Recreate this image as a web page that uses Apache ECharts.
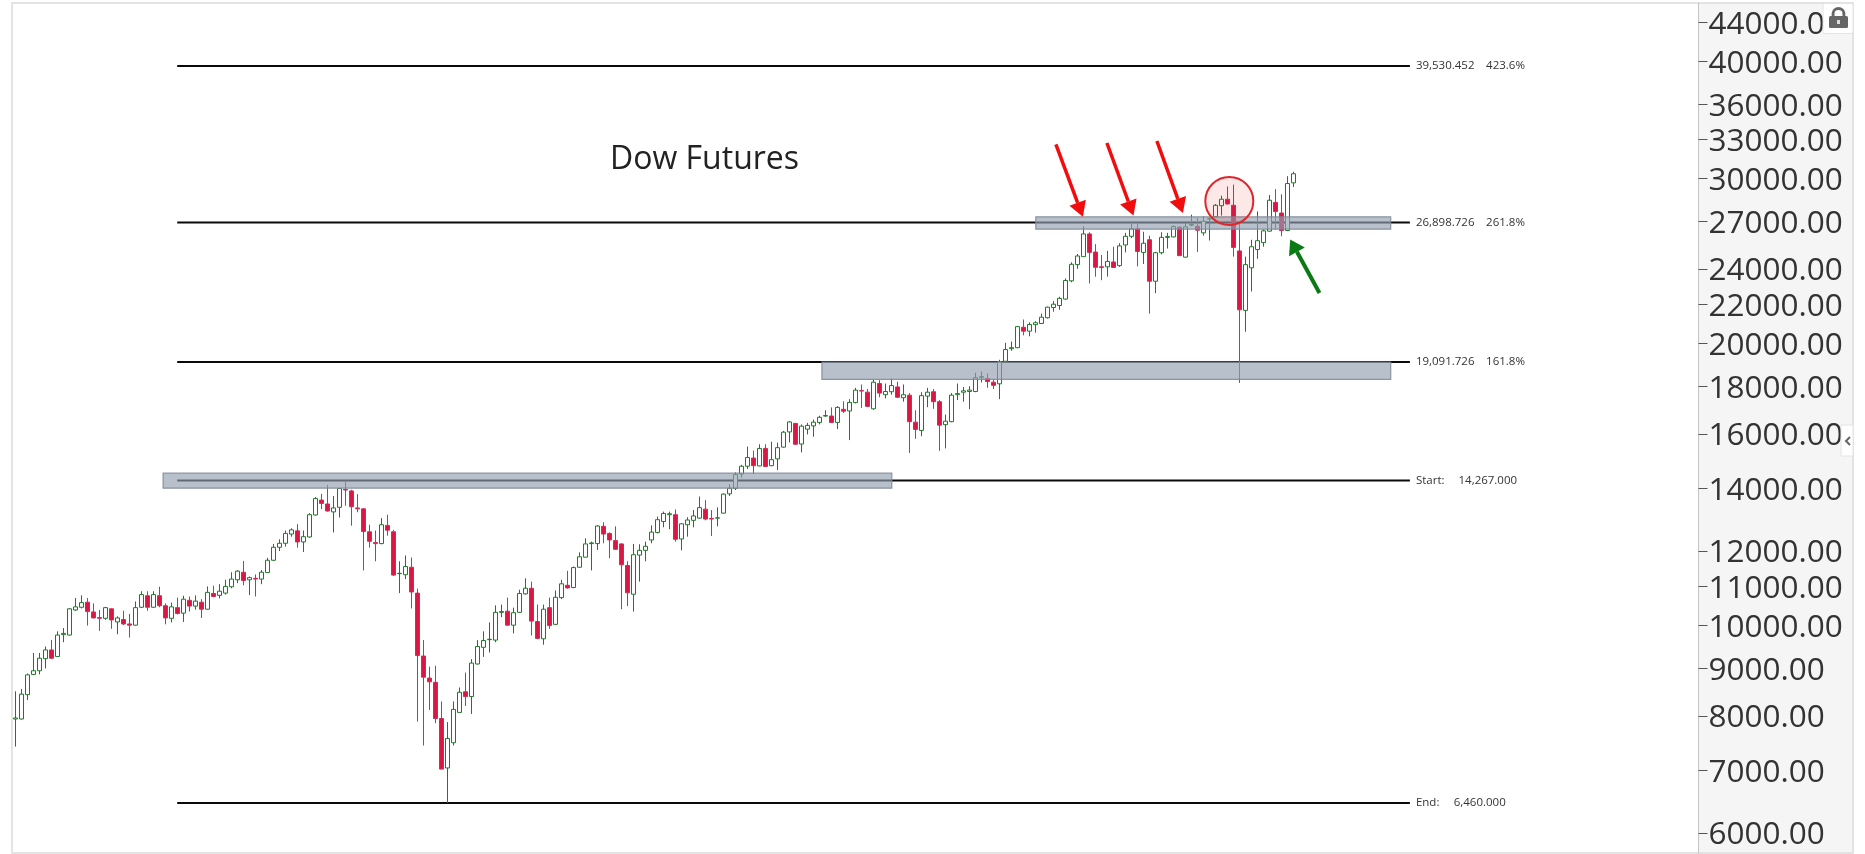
<!DOCTYPE html>
<html>
<head>
<meta charset="utf-8">
<style>html,body{margin:0;padding:0;background:#fff}#c{width:1865px;height:854px}</style>
<script src="https://cdn.jsdelivr.net/npm/echarts@6/dist/echarts.min.js"></script>
</head>
<body>
<div id="c"></div>
<script>
const opens=[7940,7940,8430,8860,8940,9210,9410,9260,9770,9760,10380,10450,10580,10330,10190,10170,10410,10080,10140,10030,10000,10450,10750,10450,10750,10490,10170,10440,10300,10630,10480,10580,10400,10810,10760,10820,10990,11180,11390,11180,11220,11200,11380,11730,12110,12230,12510,12610,12270,12420,13110,13600,13470,13210,13360,13960,13910,13340,13310,12580,12250,12220,12780,12580,11350,11320,11530,10820,9270,8780,8690,7950,7040,7490,8070,8490,8390,9090,9470,9650,9640,10320,10350,10000,10320,10800,10950,10090,9670,10440,10020,10700,11030,10970,11530,11820,12220,12220,12750,12530,12310,12210,11580,10790,11880,12020,12330,12560,12900,13120,13120,12360,12800,12940,13010,13300,13000,13010,13170,13810,14000,14500,14780,15080,14790,15440,14800,15050,15490,16080,16420,15610,16190,16320,16460,16720,16720,16460,17000,16930,17280,17800,17730,17020,18110,17620,17750,17960,17490,17600,16470,16140,17560,17750,17320,16370,16490,17620,17730,17760,17760,18390,18340,18170,18100,19130,19730,19780,20800,20600,20930,20990,21290,21830,21940,22290,23310,24260,24740,26160,25020,24130,24130,24420,24200,25460,26010,26490,25000,25790,23290,24980,25940,25970,26600,24710,26730,26660,26230,27140,27280,28040,28490,28070,25090,21680,24070,25180,25610,26340,28270,27540,26380,29660];
const closes=[7960,8440,8850,8940,9220,9410,9220,9760,9800,10410,10460,10570,10340,10180,10170,10440,10130,10180,10030,10000,10440,10780,10450,10780,10490,10180,10460,10290,10660,10480,10610,10400,10840,10730,10870,11000,11200,11420,11160,11240,11200,11390,11730,12110,12230,12530,12640,12270,12430,13120,13650,13490,13240,13340,13990,13940,13380,13310,12590,12290,12220,12800,12630,11310,11360,11550,10850,9280,8800,8700,7950,7020,7570,8130,8480,8390,9110,9490,9630,9660,10320,10340,10000,10310,10810,10950,10100,9680,10400,9990,10710,11070,10960,11520,11830,12210,12240,12760,12510,12330,12050,11600,10830,11890,12020,12140,12570,12960,13160,13150,12350,12830,12950,13080,13350,12980,12980,13020,13800,14000,14480,14780,15100,14800,15440,14770,15020,15470,16070,16480,15600,16310,16340,16470,16670,16740,16460,17080,16920,17290,17820,17780,17120,18170,17690,17760,18020,17510,17620,16490,16180,17580,17730,17320,16350,16510,17600,17670,17790,17820,18370,18420,18200,18030,19110,19690,19780,20830,20600,20940,21030,21320,21850,22010,22330,23330,24280,24780,26160,25000,24100,24090,24450,24090,25400,26010,26490,25060,25570,23290,24980,25940,25990,26640,24800,26620,26780,26400,26990,27170,28070,28490,28160,25310,21710,24260,25350,25730,26360,28420,27650,26380,29610,30330];
const lows=[7420,7930,8320,8850,8860,8990,9200,9250,9590,9750,10360,10420,9990,10170,9860,10130,9910,9780,10000,9700,9990,10430,10360,10440,10450,10020,10070,10270,10080,10340,10390,10180,10390,10710,10680,10780,10950,11090,11030,10770,10730,11060,11370,11710,12000,12130,12430,12100,11970,12400,13090,13300,13220,12560,13030,13410,12770,13200,11440,12100,11700,12200,12460,11290,10820,11200,10420,7890,7440,8120,7860,7020,6460,7440,8060,8200,8040,9080,9250,9350,9590,10200,9990,9800,10310,10780,9750,9660,9530,9910,10000,10660,10940,10950,11520,11810,11440,12030,12230,11790,12030,10400,10480,10340,11130,11700,12230,12530,12720,12660,12280,12020,12430,12720,12990,12940,12450,12750,13160,13740,13940,14370,14680,14500,14780,14750,14780,14640,15470,15670,15570,15290,15980,15890,16380,16690,16440,16190,16850,15760,17250,17050,17090,16980,17510,17460,17620,17490,17320,15270,15810,15910,17090,17020,15350,15440,16470,17390,17320,17010,17730,18160,17920,17870,17430,19110,19630,19760,20390,20340,20520,20980,21250,21610,21710,22260,23230,24010,24730,23160,23550,23350,23550,24060,24130,25000,25900,24160,24300,21510,22620,24880,25240,25940,24780,24690,26660,25030,26050,25740,27260,27370,28140,24740,18140,20570,22710,24610,25350,26300,26450,26010,26340,29360];
const highs=[8500,8550,8880,9340,9340,9490,9640,9850,9930,10430,10690,10760,10690,10550,10380,10460,10420,10220,10360,10280,10600,10870,10870,10870,10990,10550,10570,10700,10750,10730,10760,10660,11000,11020,11060,11180,11390,11450,11710,11270,11330,11450,11800,12210,12350,12620,12690,12820,12620,13170,13700,13810,14120,13740,14010,14230,13950,13800,13330,12800,12620,13010,13120,12640,11700,11870,11810,10940,9640,9030,9050,8290,7880,8290,8580,8900,9200,9640,9850,10070,10500,10520,10700,10440,10910,11220,11130,10520,10520,10700,10890,11180,11430,11550,11960,12380,12280,12790,12880,12560,12750,12230,11700,12210,12200,12280,12780,13060,13220,13220,13290,12850,13040,13270,13720,13600,13270,13360,13830,14140,14560,14830,15510,15360,15600,15600,15700,15660,16120,16520,16440,16380,16440,16580,16730,16960,17080,17130,17340,17430,17920,18070,17870,18290,18260,18110,18340,18190,18070,17690,16960,17730,17920,17870,17390,16780,17690,18110,17960,17990,18600,18660,18570,18320,19200,20020,20080,20860,21200,21050,21110,21510,21880,22180,22420,23450,24400,24900,26660,26270,25510,24840,25090,25350,25570,26230,26930,26890,26300,26050,25030,26270,26230,26710,26660,26890,27430,27220,27320,27220,28160,28740,29400,29530,26890,24740,25790,27650,26450,28790,29210,28840,30150,30480];

const categories=[];
for(let i=0;i<281;i++){const m=i+2;categories.push((2003+Math.floor(m/12))+'-'+String(m%12+1).padStart(2,'0'));}

const tickValues=[44000,40000,36000,33000,30000,27000,24000,22000,20000,18000,16000,14000,12000,11000,10000,9000,8000,7000,6000];

const fibLevels=[39530.452,26898.726,19091.726,14267,6460];
const fibLeft=['39,530.452','26,898.726','19,091.726','Start:','End:'];
const fibRight=['423.6%','261.8%','161.8%','14,267.000','6,460.000'];
const fibRightIdx=[245.1,245.1,245.1,240.5,239.7];
const fibStartIdx=26.95, fibEndIdx=232.4, fibLabelIdx=233.4;

// zones: [left index, top price, right index, bottom price]
const zones=[[24.6,14530,146.05,14005],[134.4,19091.7,229.2,18293],[170.05,27281,229.2,26467]];
// arrows: [tail index, tail price, tip index, tip price]
const redArrows=[[173.4,32609,177.9,27281],[181.9,32714,186.33,27367],[190.23,32875,194.57,27544]];
const greenArrows=[[217.33,22630,212.45,25803]];
// circle: [centre index, centre price, radius in index units]
const circles=[[202.3,28368,4]];
const titleText='Dow Futures';

function hiddenX(){return {type:'value',min:-0.5,max:280.5,show:false,gridIndex:0};}

function fibRender(p,api){
  const a=api.coord([api.value(0),api.value(1)]),b=api.coord([api.value(2),api.value(1)]);
  return {type:'line',shape:{x1:a[0],y1:a[1],x2:b[0],y2:b[1]},style:{stroke:'#0a0a0a',lineWidth:2}};
}
function labelRender(p,api){
  const i=p.dataIndex;
  const a=api.coord([fibLabelIdx,api.value(0)]),b=api.coord([fibRightIdx[i],api.value(0)]);
  const st={fontFamily:'Open Sans',fontSize:11.5,fill:'#333',textVerticalAlign:'middle',verticalAlign:'middle',align:'left'};
  return {type:'group',children:[
    {type:'text',style:Object.assign({x:a[0],y:a[1],text:fibLeft[i]},st)},
    {type:'text',style:Object.assign({x:b[0],y:b[1],text:fibRight[i]},st)}
  ]};
}
function zoneRender(p,api){
  const a=api.coord([api.value(0),api.value(1)]),b=api.coord([api.value(2),api.value(3)]);
  return {type:'rect',shape:{x:a[0],y:a[1],width:b[0]-a[0],height:b[1]-a[1]},
    style:{fill:'rgba(146,158,177,0.65)',stroke:'rgba(125,135,148,0.85)',lineWidth:1.2}};
}
function arrowRender(color,headW,headL,shaft){
  return function(p,api){
    const t=api.coord([api.value(0),api.value(1)]),h=api.coord([api.value(2),api.value(3)]);
    const dx=h[0]-t[0],dy=h[1]-t[1],len=Math.hypot(dx,dy),ux=dx/len,uy=dy/len,nx=-uy,ny=ux;
    const bx=h[0]-ux*headL,by=h[1]-uy*headL;
    return {type:'group',children:[
      {type:'line',shape:{x1:t[0],y1:t[1],x2:bx,y2:by},style:{stroke:color,lineWidth:shaft}},
      {type:'polygon',shape:{points:[[h[0],h[1]],[bx+nx*headW/2,by+ny*headW/2],[bx-nx*headW/2,by-ny*headW/2]]},style:{fill:color}}
    ]};
  };
}
function circleRender(p,api){
  const c=api.coord([api.value(0),api.value(1)]),e=api.coord([api.value(0)+api.value(2),api.value(1)]);
  return {type:'circle',shape:{cx:c[0],cy:c[1],r:e[0]-c[0]},style:{fill:'rgba(235,30,30,0.10)',stroke:'#e0262a',lineWidth:2}};
}

const chart=echarts.init(document.getElementById('c'),null,{renderer:'canvas'});
const panelX=1698.5,panelR=1853,topY=3,botY=853;
chart.setOption({
  animation:false,
  backgroundColor:'#fff',
  title:{text:titleText,left:605,top:139,textStyle:{fontFamily:'Open Sans',fontSize:32,fontWeight:'normal',color:'#222'}},
  grid:{left:12.5,top:topY,width:panelX-12.5,height:botY-topY,show:false,containLabel:false},
  xAxis:[
    {type:'category',data:categories,show:false,boundaryGap:true},
    hiddenX()
  ],
  yAxis:{type:'log',logBase:10,min:5712,max:46150,position:'right',
    splitLine:{show:false},minorTick:{show:false},minorSplitLine:{show:false},
    axisLine:{show:true,onZero:false,lineStyle:{color:'#c4c4c4',width:1}},
    axisTick:{show:true,length:9,inside:false,lineStyle:{color:'#555',width:1},customValues:tickValues},
    axisLabel:{show:true,inside:false,margin:10,align:'left',verticalAlign:'top',lineHeight:5,fontFamily:'Open Sans',fontSize:31.5,color:'#333',
      customValues:tickValues,formatter:function(v){return Number(v).toFixed(2);}}
  },
  graphic:{elements:[
    {type:'rect',z:-10,silent:true,shape:{x:panelX,y:topY,width:panelR-panelX,height:botY-topY},style:{fill:'#f5f5f6'}},
    {type:'polyline',z:-9,silent:true,shape:{points:[[panelX,topY],[12,topY],[12,botY],[panelR,botY],[panelR,topY],[panelX,topY]]},style:{fill:'none',stroke:'#dcdcdc',lineWidth:1.5}},
    {type:'rect',z:100,silent:true,shape:{x:1823,y:3.5,width:30,height:30,r:2},style:{fill:'#fff',stroke:'#e4e4e4',lineWidth:1}},
    {type:'rect',z:101,silent:true,shape:{x:1829,y:16,width:19,height:12,r:1.5},style:{fill:'#666'}},
    {type:'arc',z:101,silent:true,shape:{cx:1838.5,cy:14,r:5.5,startAngle:Math.PI,endAngle:2*Math.PI},style:{fill:'none',stroke:'#666',lineWidth:2.8}},
    {type:'rect',z:101,silent:true,shape:{x:1831.7,y:13.5,width:2.8,height:3},style:{fill:'#666'}},
    {type:'rect',z:101,silent:true,shape:{x:1842.5,y:13.5,width:2.8,height:3},style:{fill:'#666'}},
    {type:'rect',z:102,silent:true,shape:{x:1837,y:20,width:3,height:4},style:{fill:'#ddd'}},
    {type:'rect',z:100,silent:true,shape:{x:1841,y:425,width:12,height:31},style:{fill:'#fff',stroke:'#e4e4e4',lineWidth:1}},
    {type:'polyline',z:101,silent:true,shape:{points:[[1850,437],[1846,441],[1850,445]]},style:{fill:'none',stroke:'#666',lineWidth:2}}
  ]},
  series:[
    {type:'custom',name:'fib',xAxisIndex:1,z:1,silent:true,clip:false,renderItem:fibRender,
      encode:{x:[0,2],y:1},data:fibLevels.map(function(v){return [fibStartIdx,v,fibEndIdx];})},
    {type:'custom',name:'fibLabels',xAxisIndex:1,z:1,silent:true,clip:false,renderItem:labelRender,
      encode:{y:0},data:fibLevels.map(function(v){return [v];})},
    {type:'candlestick',name:'Dow Futures',xAxisIndex:0,z:2,barWidth:4,
      data:opens.map(function(o,i){return [o,closes[i],lows[i],highs[i]];}),
      itemStyle:{color:'#ffffff',color0:'#d81742',borderColor:'#1f7a26',borderColor0:'#d02c58',borderWidth:1}},
    {type:'custom',name:'zones',xAxisIndex:1,z:3,silent:true,clip:false,renderItem:zoneRender,
      encode:{x:[0,2],y:[1,3]},data:zones},
    {type:'custom',name:'circle',xAxisIndex:1,z:4,silent:true,clip:false,renderItem:circleRender,
      encode:{x:0,y:1},data:circles},
    {type:'custom',name:'redArrows',xAxisIndex:1,z:5,silent:true,clip:false,renderItem:arrowRender('#f10d0d',17.5,15,3.5),
      encode:{x:[0,2],y:[1,3]},data:redArrows},
    {type:'custom',name:'greenArrows',xAxisIndex:1,z:5,silent:true,clip:false,renderItem:arrowRender('#0a7a14',18,14,4),
      encode:{x:[0,2],y:[1,3]},data:greenArrows}
  ]
});
</script>
</body>
</html>
